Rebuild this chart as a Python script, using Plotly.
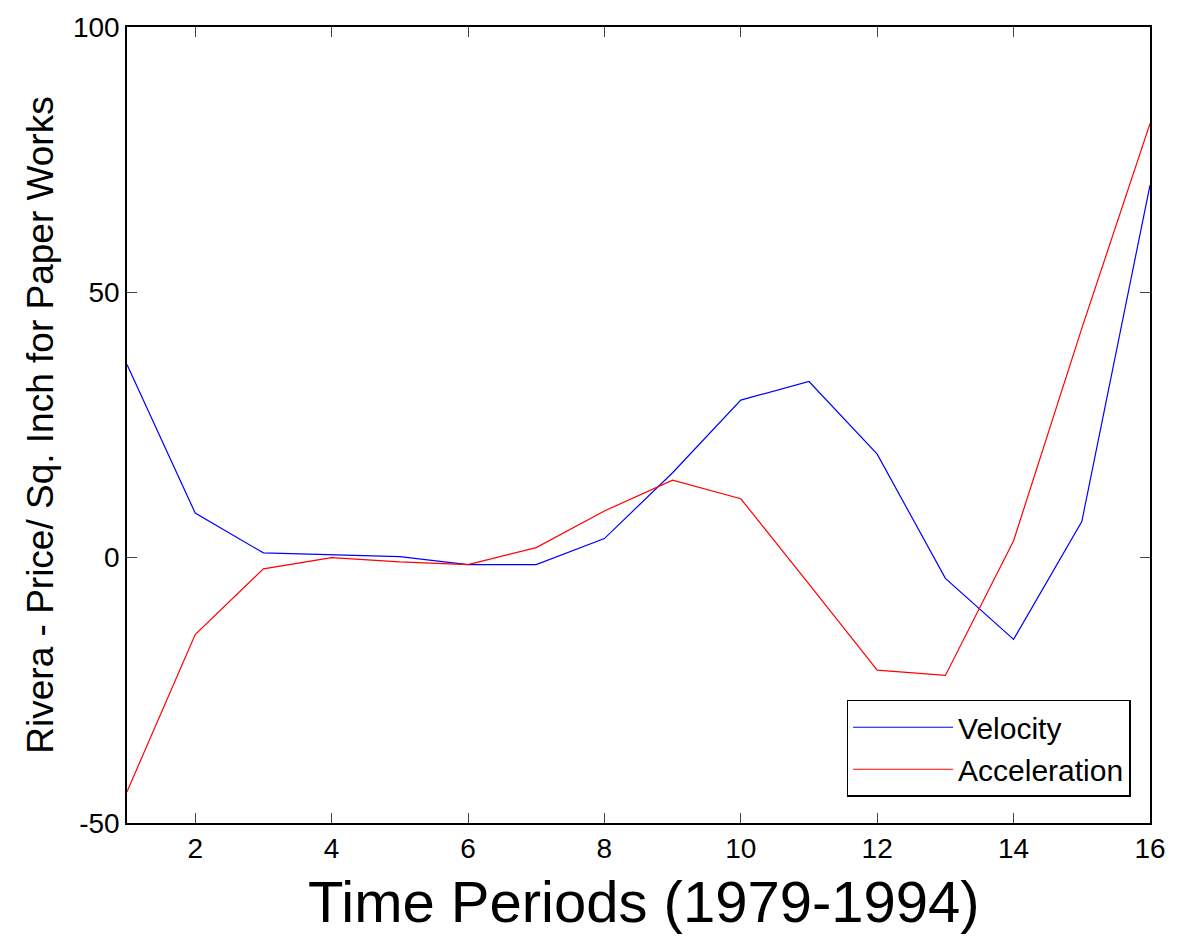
import plotly.graph_objects as go

# data
periods = list(range(1, 17))
velocity = [36.4, 8.4, 0.9, 0.5, 0.2, -1.3, -1.3, 3.6, 16.0, 29.7, 33.2, 19.5, -3.9, -15.4, 6.8, 70.2]
acceleration = [-44.1, -14.5, -2.1, 0.0, -0.8, -1.3, 1.9, 8.8, 14.6, 11.1, -5.0, -21.2, -22.2, 3.2, 43.2, 81.8]

x_ticks = [2, 4, 6, 8, 10, 12, 14, 16]
y_ticks = [-50, 0, 50, 100]
y_tick_labels = ["-50", "0", "50", "100"]

FONT = "Liberation Sans, Arial"

fig = go.Figure()
fig.add_trace(go.Scatter(x=periods, y=velocity, mode="lines", name="Velocity",
                         line=dict(color="#0000ff", width=1.2)))
fig.add_trace(go.Scatter(x=periods, y=acceleration, mode="lines", name="Acceleration",
                         line=dict(color="#ff0000", width=1.2)))

axis_common = dict(
    showgrid=False, zeroline=False,
    showline=True, linecolor="black", linewidth=1.5, mirror="ticks",
    ticks="inside", ticklen=10, tickcolor="#444",
    tickfont=dict(family=FONT, size=28, color="black"),
)

fig.update_xaxes(range=[1, 16], tickvals=x_ticks, **axis_common)
fig.update_yaxes(range=[-50, 100], tickvals=y_ticks, ticktext=y_tick_labels,
                 title=dict(text="Rivera - Price/ Sq. Inch for Paper Works",
                            font=dict(family=FONT, size=37, color="black"),
                            standoff=8),
                 **axis_common)

# x axis title placed as an annotation so its height can be set exactly
fig.add_annotation(text="Time Periods (1979-1994)", xref="paper", yref="paper",
                   x=0.505, y=-0.099, xanchor="center", yanchor="middle",
                   showarrow=False, font=dict(family=FONT, size=58, color="black"))

fig.update_layout(
    width=1178, height=937,
    margin=dict(l=127, r=21, t=24, b=114),
    plot_bgcolor="white", paper_bgcolor="white",
    legend=dict(
        x=0.981, y=0.033, xanchor="right", yanchor="bottom",
        bgcolor="white", bordercolor="black", borderwidth=1.5,
        font=dict(family=FONT, size=30, color="black"),
        itemwidth=100,
    ),
)

fig.write_html("out.html", config={"displayModeBar": False},
               post_script="document.body.style.margin='0';")
